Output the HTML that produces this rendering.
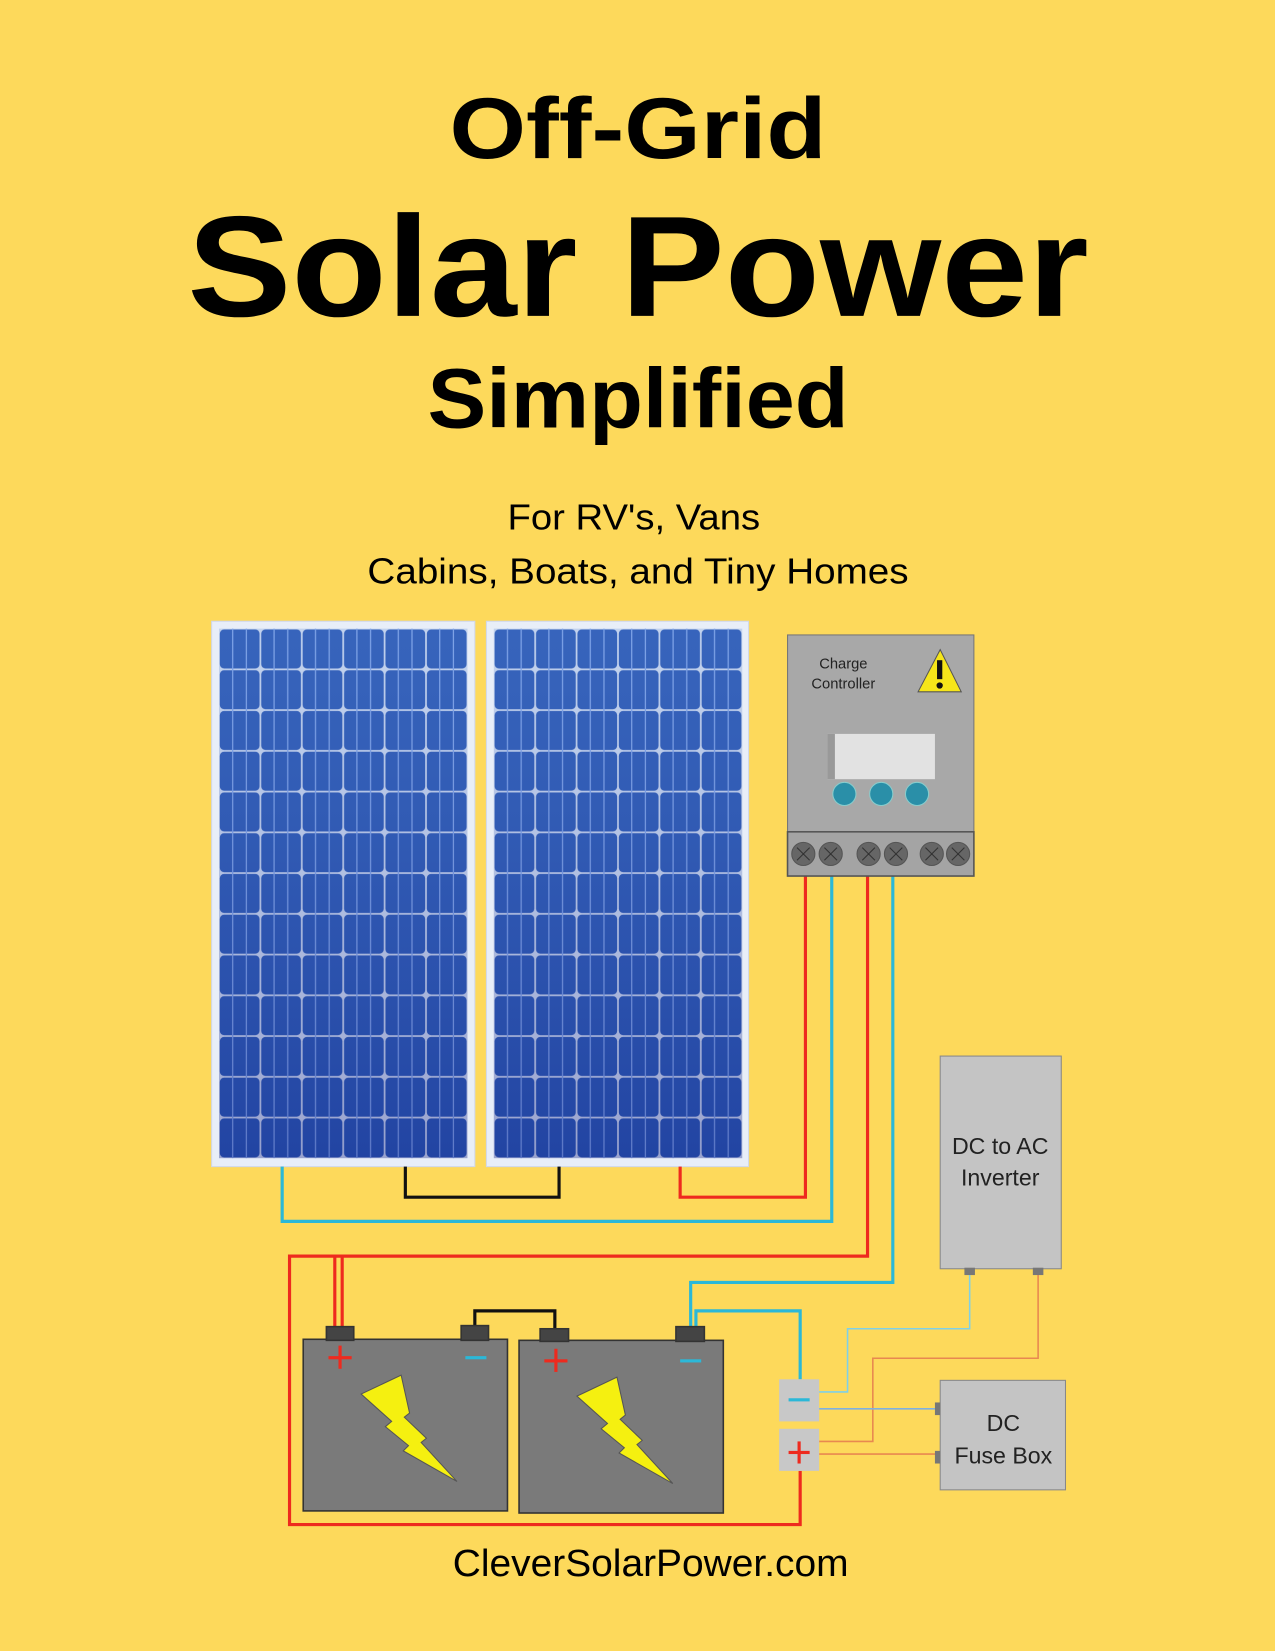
<!DOCTYPE html>
<html><head><meta charset="utf-8"><style>
html,body{margin:0;padding:0;background:#fdd95b;}
svg{display:block}
text{font-family:"Liberation Sans",sans-serif}
</style></head><body>
<svg width="1275" height="1651" viewBox="0 0 1211 1568" xmlns="http://www.w3.org/2000/svg">
<defs>
<pattern id="cell" x="208" y="597" width="39.33" height="38.7" patternUnits="userSpaceOnUse">
<rect x="0.8" y="0.8" width="37.7" height="37.1" rx="4" fill="#2f5bb5"/>
<line x1="13" y1="0" x2="13" y2="38.7" stroke="#8fb0f0" stroke-width="1.2"/>
<line x1="26" y1="0" x2="26" y2="38.7" stroke="#8fb0f0" stroke-width="1.2"/>
</pattern>
<pattern id="cell2" x="469" y="597" width="39.33" height="38.7" patternUnits="userSpaceOnUse">
<rect x="0.8" y="0.8" width="37.7" height="37.1" rx="4" fill="#2f5bb5"/>
<line x1="13" y1="0" x2="13" y2="38.7" stroke="#8fb0f0" stroke-width="1.2"/>
<line x1="26" y1="0" x2="26" y2="38.7" stroke="#8fb0f0" stroke-width="1.2"/>
</pattern>
<linearGradient id="shade" x1="0" y1="0" x2="0" y2="1">
<stop offset="0" stop-color="#5080d0" stop-opacity="0.25"/>
<stop offset="1" stop-color="#0a1a80" stop-opacity="0.35"/>
</linearGradient>
</defs>
<rect width="1211" height="1568" fill="#fdd95b"/>
<text x="606" y="150" font-size="82" font-weight="bold" text-anchor="middle" textLength="358" lengthAdjust="spacingAndGlyphs">Off-Grid</text>
<text x="606" y="300" font-size="136" font-weight="bold" text-anchor="middle" textLength="856" lengthAdjust="spacingAndGlyphs">Solar Power</text>
<text x="606" y="406" font-size="80" font-weight="bold" text-anchor="middle" textLength="400" lengthAdjust="spacingAndGlyphs">Simplified</text>
<text x="602" y="503" font-size="34" text-anchor="middle" textLength="240" lengthAdjust="spacingAndGlyphs">For  RV's, Vans</text>
<text x="606" y="554" font-size="34" text-anchor="middle" textLength="514" lengthAdjust="spacingAndGlyphs">Cabins, Boats, and Tiny Homes</text>

<rect x="201" y="590" width="250" height="518" fill="#e8eef8" stroke="#d0d8e8"/>
<rect x="208" y="597" width="236" height="503" fill="url(#cell)"/>
<rect x="208" y="597" width="236" height="503" fill="url(#shade)"/>
<rect x="462" y="590" width="249" height="518" fill="#e8eef8" stroke="#d0d8e8"/>
<rect x="469" y="597" width="236" height="503" fill="url(#cell2)"/>
<rect x="469" y="597" width="236" height="503" fill="url(#shade)"/>

<g fill="none" stroke-width="3">
<polyline points="646,1108 646,1137 765,1137 765,832" stroke="#ee2a1e"/>
<polyline points="268,1108 268,1160 790,1160 790,832" stroke="#2bb8d8"/>
<polyline points="385,1108 385,1137 531,1137 531,1108" stroke="#111"/>
<polyline points="824,832 824,1193 275,1193 275,1448 760,1448 760,1397" stroke="#ee2a1e"/>
<polyline points="318,1262 318,1193" stroke="#ee2a1e"/>
<polyline points="325,1262 325,1193" stroke="#ee2a1e"/>
<polyline points="848,832 848,1218 656,1218 656,1262" stroke="#2bb8d8"/>
<polyline points="661,1262 661,1245 760,1245 760,1310" stroke="#2bb8d8"/>
<polyline points="451,1262 451,1245 527,1245 527,1262" stroke="#111"/>
</g>
<g fill="none" stroke-width="1.5">
<polyline points="921,1210 921,1262 805,1262 805,1322 778,1322" stroke="#7fd0e8"/>
<polyline points="986,1210 986,1290 829,1290 829,1369 778,1369" stroke="#e88850"/>
<polyline points="778,1338 890,1338" stroke="#7fb0e0"/>
<polyline points="778,1381 890,1381" stroke="#e88850"/>
</g>

<rect x="748" y="603" width="177" height="229" fill="#a8a8a8" stroke="#777"/>
<text x="801" y="635" font-size="14" text-anchor="middle" fill="#222">Charge</text>
<text x="801" y="654" font-size="14" text-anchor="middle" fill="#222">Controller</text>
<polygon points="893,617 872,657 913,657" fill="#f6e61a" stroke="#555" stroke-width="1"/>
<rect x="890" y="627" width="5" height="18" fill="#111"/><circle cx="892.5" cy="651" r="3" fill="#111"/>
<rect x="786" y="697" width="102" height="43" fill="#e2e2e2"/>
<rect x="786" y="697" width="7" height="43" fill="#999"/>
<circle cx="802" cy="754" r="11" fill="#2a8fa8" stroke="#8cc" stroke-width="1"/>
<circle cx="837" cy="754" r="11" fill="#2a8fa8" stroke="#8cc" stroke-width="1"/>
<circle cx="871" cy="754" r="11" fill="#2a8fa8" stroke="#8cc" stroke-width="1"/>
<rect x="748" y="790" width="177" height="42" fill="#a4a4a4" stroke="#555" stroke-width="1.5"/>
<g fill="#666" stroke="#555">
<circle cx="763" cy="811" r="11"/><circle cx="789" cy="811" r="11"/>
<circle cx="825" cy="811" r="11"/><circle cx="851" cy="811" r="11"/>
<circle cx="885" cy="811" r="11"/><circle cx="910" cy="811" r="11"/>
</g>
<g stroke="#333" stroke-width="1">
<path d="M757,805l12,12M769,805l-12,12M783,805l12,12M795,805l-12,12M819,805l12,12M831,805l-12,12M845,805l12,12M857,805l-12,12M879,805l12,12M891,805l-12,12M904,805l12,12M916,805l-12,12"/>
</g>

<rect x="893" y="1003" width="115" height="202" fill="#c4c4c4" stroke="#888"/>
<text x="950" y="1096" font-size="22" text-anchor="middle" fill="#222">DC to AC</text>
<text x="950" y="1126" font-size="22" text-anchor="middle" fill="#222">Inverter</text>
<rect x="916" y="1204" width="10" height="7" fill="#777"/>
<rect x="981" y="1204" width="10" height="7" fill="#777"/>

<rect x="893" y="1311" width="119" height="104" fill="#c4c4c4" stroke="#888"/>
<text x="953" y="1359" font-size="22" text-anchor="middle" fill="#222">DC</text>
<text x="953" y="1390" font-size="22" text-anchor="middle" fill="#222">Fuse Box</text>
<rect x="888" y="1332" width="5" height="12" fill="#777"/>
<rect x="888" y="1378" width="5" height="12" fill="#777"/>

<rect x="740" y="1310" width="38" height="40" fill="#c8c8c8"/>
<rect x="749" y="1328" width="20" height="3" fill="#2bb8d8"/>
<rect x="740" y="1357" width="38" height="40" fill="#c8c8c8"/>
<rect x="749" y="1378" width="20" height="3" fill="#ee2a1e"/><rect x="757.5" y="1369" width="3" height="21" fill="#ee2a1e"/>

<g stroke="#333" stroke-width="1.5">
<rect x="288" y="1272" width="194" height="163" fill="#7a7a7a"/>
<rect x="493" y="1273" width="194" height="164" fill="#7a7a7a"/>
<rect x="310" y="1260" width="26" height="13" fill="#444"/>
<rect x="438" y="1259" width="26" height="14" fill="#444"/>
<rect x="513" y="1262" width="27" height="12" fill="#444"/>
<rect x="642" y="1260" width="27" height="14" fill="#444"/>
</g>
<g fill="#ee2a1e">
<rect x="312" y="1288" width="22" height="3"/><rect x="321.5" y="1278" width="3" height="22"/>
<rect x="517" y="1291" width="22" height="3"/><rect x="526.5" y="1281" width="3" height="22"/>
</g>
<rect x="442" y="1288" width="20" height="3" fill="#2bb8d8"/>
<rect x="646" y="1291" width="20" height="3" fill="#2bb8d8"/>
<polygon points="343,1324 381,1306 389,1342 384,1346 405,1366 400,1370 434,1407 383,1378 388,1373 366,1355 372,1350" fill="#f5f010" stroke="#555" stroke-width="1"/>
<polygon points="548,1326 586,1308 594,1344 589,1348 610,1368 605,1372 639,1409 588,1380 593,1375 571,1357 577,1352" fill="#f5f010" stroke="#555" stroke-width="1"/>

<text x="618" y="1497" font-size="36" text-anchor="middle" textLength="376" lengthAdjust="spacingAndGlyphs">CleverSolarPower.com</text>
</svg>
</body></html>
